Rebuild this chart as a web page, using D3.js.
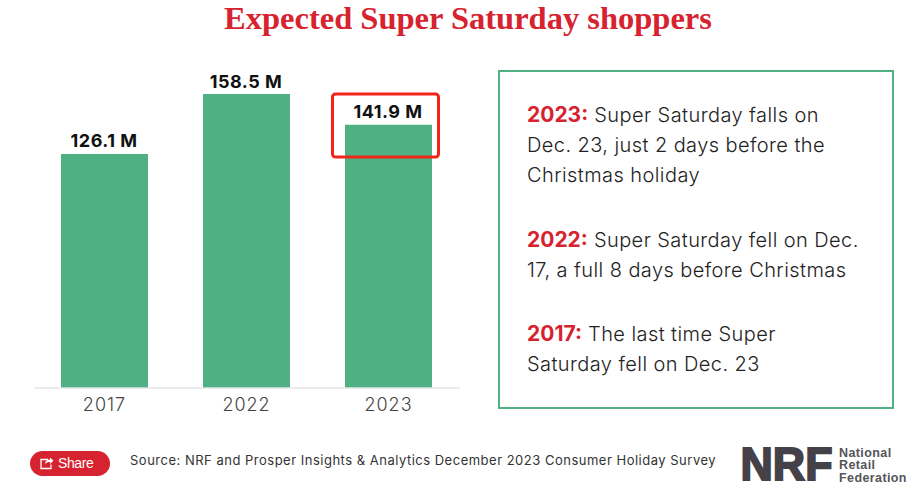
<!DOCTYPE html>
<html><head><meta charset="utf-8">
<script src="https://cdn.jsdelivr.net/npm/d3@7"></script>
<style>html,body{margin:0;padding:0;background:#fff}svg{display:block}</style>
</head><body><svg id="c" width="919" height="496"></svg>
<script>
const years = ["2017","2022","2023"];
const shoppers = [126.1,158.5,141.9];
const valueLabels = ["126.1 M","158.5 M","141.9 M"];
const notes = [
 {y:"2023:",lines:[" Super Saturday falls on","Dec. 23, just 2 days before the","Christmas holiday"]},
 {y:"2022:",lines:[" Super Saturday fell on Dec.","17, a full 8 days before Christmas"]},
 {y:"2017:",lines:[" The last time Super","Saturday fell on Dec. 23"]}
];
const noteTops = [122,247,341];
const titleText = "Expected Super Saturday shoppers";
const sourceText = "Source: NRF and Prosper Insights & Analytics December 2023 Consumer Holiday Survey";
const RED="#d7222f", GREEN="#4fb183", BODY="Inter, 'Noto Sans', sans-serif";
const svg=d3.select("#c");
svg.append("text").attr("x",468).attr("y",29).attr("text-anchor","middle")
 .attr("font-family","'Liberation Serif',serif").attr("font-weight","700").attr("font-size",32.5).attr("fill",RED).text(titleText);
const x=d3.scaleBand().domain(years).range([33.5,459.5]).paddingInner(55/142).paddingOuter(27.5/142);
const y=d3.scaleLinear().domain([0,158.5]).range([387.5,94]);
svg.selectAll("rect.bar").data(years).join("rect").attr("class","bar")
 .attr("x",d=>x(d)).attr("width",x.bandwidth())
 .attr("y",(d,i)=>y(shoppers[i])).attr("height",(d,i)=>y(0)-y(shoppers[i])).attr("fill",GREEN);
const ax=svg.append("g").attr("transform","translate(0,387.5)").call(d3.axisBottom(x).tickSize(0).tickPadding(7));
ax.select(".domain").attr("stroke","#d9d9d9").attr("stroke-width",1);
ax.selectAll("text").attr("font-family",BODY).attr("font-size",18).attr("font-weight",300).attr("letter-spacing",1).attr("fill","#444").attr("dy","0.9em");
svg.selectAll("text.v").data(years).join("text").attr("class","v")
 .attr("x",d=>x(d)+x.bandwidth()/2-0.5).attr("y",(d,i)=>y(shoppers[i])-6.5).attr("text-anchor","middle")
 .attr("font-family",BODY).attr("font-weight",700).attr("font-size",18).attr("letter-spacing",.5).attr("fill","#111").text((d,i)=>valueLabels[i]);
svg.append("rect").attr("x",332.5).attr("y",94).attr("width",106).attr("height",63).attr("rx",3)
 .attr("fill","none").attr("stroke","#f02418").attr("stroke-width",3);
svg.append("rect").attr("x",499).attr("y",71).attr("width",394).attr("height",337).attr("fill","none").attr("stroke",GREEN).attr("stroke-width",2);
notes.forEach((n,i)=>{
 n.lines.forEach((l,j)=>{
  const t=svg.append("text").attr("x",527).attr("y",noteTops[i]+j*30).attr("font-family",BODY).attr("font-size",20).attr("font-weight",300).attr("letter-spacing",.42).attr("fill","#222");
  if(j===0)t.append("tspan").attr("font-weight",700).attr("fill",RED).attr("font-size",21).attr("letter-spacing",0).text(n.y);
  t.append("tspan").style("white-space","pre").text(l);
 });
});
svg.append("rect").attr("x",30).attr("y",451).attr("width",80).attr("height",25).attr("rx",12.5).attr("fill",RED);
const ic=svg.append("g").attr("fill","none").attr("stroke","#fff").attr("stroke-width",1.3);
ic.append("path").attr("d","M48 459.5h-7v9h10v-4");
ic.append("path").attr("d","M45 464c0-3 2-4.5 5-4.5v-2l3.5 3.2-3.5 3.2v-2c-2 0-4 .5-5 2z").attr("fill","#fff").attr("stroke","none");
svg.append("text").attr("x",58).attr("y",468).attr("font-family","'Liberation Sans',sans-serif").attr("font-size",14).attr("letter-spacing",-.4).attr("fill","#fff").text("Share");
svg.append("text").attr("x",130).attr("y",465).attr("font-family",BODY).attr("font-size",13).attr("letter-spacing",.5).attr("fill","#333").text(sourceText);
svg.append("text").attr("x",740.5).attr("y",480).attr("font-family","'Liberation Sans',sans-serif").attr("font-weight",700).attr("font-size",47).attr("textLength",92).attr("lengthAdjust","spacingAndGlyphs").attr("fill","#444248").attr("stroke","#444248").attr("stroke-width",2).text("NRF");
["National","Retail","Federation"].forEach((s,i)=>svg.append("text").attr("x",839).attr("y",456.5+i*12.5)
 .attr("font-family","'Liberation Sans',sans-serif").attr("font-weight",700).attr("font-size",12.5).attr("letter-spacing",.4).attr("fill","#55545a").text(s));
</script></body></html>
